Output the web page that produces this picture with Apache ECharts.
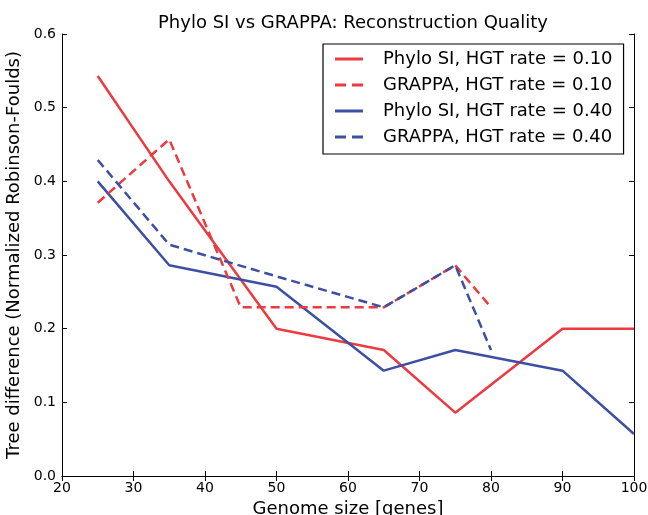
<!DOCTYPE html>
<html><head><meta charset="utf-8">
<script src="https://cdn.jsdelivr.net/npm/echarts@6/dist/echarts.min.js"></script>
<style>html,body{margin:0;padding:0;background:#fff}#c{width:648px;height:515px}</style>
</head><body><div id="c"></div>
<script>
const seriesNames = ["Phylo SI, HGT rate = 0.10","GRAPPA, HGT rate = 0.10","Phylo SI, HGT rate = 0.40","GRAPPA, HGT rate = 0.40"];
const phylo10X = [25,35,50,65,75,90,100];
const phylo10Y = [0.543,0.400,0.200,0.171,0.086,0.200,0.200];
const grappa10X = [25,35,45,65,75,80];
const grappa10Y = [0.371,0.457,0.229,0.229,0.286,0.229];
const phylo40X = [25,35,50,65,75,90,100];
const phylo40Y = [0.400,0.286,0.257,0.143,0.171,0.143,0.057];
const grappa40X = [25,35,50,65,75,80];
const grappa40Y = [0.429,0.314,0.271,0.229,0.286,0.171];
const xTicks = [20,30,40,50,60,70,80,90,100];
const yTicks = [0.0,0.1,0.2,0.3,0.4,0.5,0.6];

const RED = '#ec3a40', BLUE = '#3c4fa2';
const font = 'DejaVu Sans';
const SOLID_ICON = 'path://M0,0h28v3h-28z';
const DASH_ICON = 'path://M0,0h11v3h-11z M17,0h11v3h-11z';
function pairs(xs, ys){ return xs.map((x,i)=>[x, ys[i]]); }
function mk(name, xs, ys, color, dashed){
  return {name, type:'line', data:pairs(xs,ys), symbol:'none', xAxisIndex:0, yAxisIndex:0,
    lineStyle:{color, width:2.5, type: dashed ? [9,5] : 'solid'}, itemStyle:{color}, z: dashed?3:2};
}
const axisCommon = {
  axisLine:{lineStyle:{color:'#000', width:1}},
  axisTick:{inside:true, length:5, lineStyle:{color:'#000'}},
  splitLine:{show:false},
};
const chart = echarts.init(document.getElementById('c'), null, {renderer:'canvas'});
chart.setOption({
  animation:false,
  backgroundColor:'#fff',
  title:{text:'Phylo SI vs GRAPPA: Reconstruction Quality', left:348, top:9, textAlign:'center',
    textStyle:{fontFamily:font, fontSize:18, fontWeight:'normal', color:'#000'}},
  grid:{left:62, right:14, top:34, bottom:39, containLabel:false, outerBoundsMode:'none'},
  legend:{
    orient:'vertical', left:323, top:44,
    data: seriesNames.map((n,i)=>({name:n, icon: i%2 ? DASH_ICON : SOLID_ICON})),
    backgroundColor:'#fff', borderColor:'#000', borderWidth:1.2, borderRadius:0,
    padding:[6,11,8,12], itemWidth:28, itemHeight:3, itemGap:8,
    textStyle:{fontFamily:font, fontSize:18, lineHeight:18, color:'#000', padding:[0,0,0,15]}
  },
  xAxis:[
    Object.assign({}, axisCommon, {type:'value', min:20, max:100, interval:10, position:'bottom',
      name:'Genome size [genes]', nameLocation:'middle', nameGap:23,
      nameTextStyle:{fontFamily:font, fontSize:18, color:'#000'},
      axisLabel:{fontFamily:font, fontSize:14, color:'#000', margin:5,
        formatter:v=>xTicks.includes(v)?String(v):''}}),
    Object.assign({}, axisCommon, {type:'value', min:20, max:100, interval:10, position:'top',
      axisLabel:{show:false}})
  ],
  yAxis:[
    Object.assign({}, axisCommon, {type:'value', min:0, max:0.6, interval:0.1, position:'left',
      name:'Tree difference (Normalized Robinson-Foulds)', nameLocation:'middle', nameGap:31,
      nameTextStyle:{fontFamily:font, fontSize:18, color:'#000'},
      axisLabel:{fontFamily:font, fontSize:14, color:'#000', margin:6,
        formatter:v=>yTicks.some(t=>Math.abs(t-v)<1e-9)?v.toFixed(1):''}}),
    Object.assign({}, axisCommon, {type:'value', min:0, max:0.6, interval:0.1, position:'right',
      axisLabel:{show:false}})
  ],
  series:[
    mk(seriesNames[0], phylo10X, phylo10Y, RED, false),
    mk(seriesNames[1], grappa10X, grappa10Y, RED, true),
    mk(seriesNames[2], phylo40X, phylo40Y, BLUE, false),
    mk(seriesNames[3], grappa40X, grappa40Y, BLUE, true)
  ]
});
</script></body></html>
